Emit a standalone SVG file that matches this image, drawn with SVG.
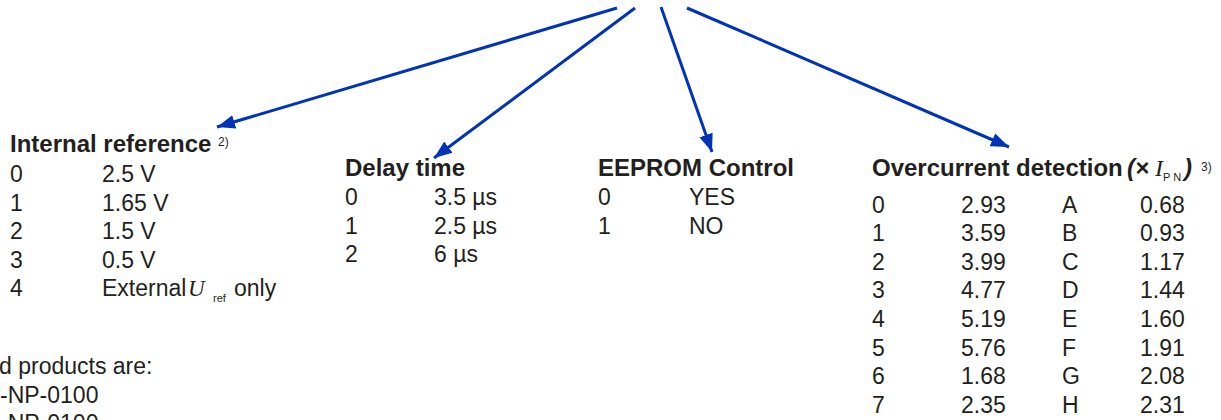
<svg xmlns="http://www.w3.org/2000/svg" width="1221" height="420" viewBox="0 0 1221 420">
<defs>
<marker id="ah" markerUnits="userSpaceOnUse" markerWidth="20" markerHeight="16" refX="18" refY="7" orient="auto" viewBox="0 0 20 14">
<path d="M0,0 L18,7 L0,14 Z" fill="#0033b8"/>
</marker>
</defs>
<style>
text{font-family:"Liberation Sans",Arial,sans-serif;fill:#231f20;font-size:23px}
.t{font-weight:bold;font-size:24px}
.sup{font-size:12px}
.sub{font-size:11px}
.it{font-family:"Liberation Serif","Times New Roman",serif;font-style:italic}
.c line{stroke:#0033b8;stroke-width:3;marker-end:url(#ah)}
</style>
<rect width="1221" height="420" fill="#ffffff"/>
<g class="c" id="connectors">
<line x1="617" y1="8" x2="217" y2="127"/>
<line x1="635" y1="8" x2="434" y2="158"/>
<line x1="661" y1="7" x2="712" y2="152"/>
<line x1="687" y1="8" x2="1009" y2="147"/>
</g>
<g id="internal-reference">
<text class="t" x="10" y="152">Internal reference</text>
<text class="sup" x="218" y="146">2)</text>
<text x="10" y="182">0</text><text x="102" y="182">2.5 V</text>
<text x="10" y="210.5">1</text><text x="102" y="210.5">1.65 V</text>
<text x="10" y="239">2</text><text x="102" y="239">1.5 V</text>
<text x="10" y="267.5">3</text><text x="102" y="267.5">0.5 V</text>
<text x="10" y="296">4</text><text x="102" y="296">External <tspan class="it" x="188">U</tspan><tspan class="sub" x="213" y="302">ref</tspan><tspan x="234" y="296">only</tspan></text>
</g>
<g id="delay-time">
<text class="t" x="345" y="176">Delay time</text>
<text x="345" y="205">0</text><text x="434" y="205">3.5 µs</text>
<text x="345" y="233.5">1</text><text x="434" y="233.5">2.5 µs</text>
<text x="345" y="262">2</text><text x="434" y="262">6 µs</text>
</g>
<g id="eeprom-control">
<text class="t" x="598" y="176">EEPROM Control</text>
<text x="598" y="205">0</text><text x="689" y="205">YES</text>
<text x="598" y="233.5">1</text><text x="689" y="233.5">NO</text>
</g>
<g id="overcurrent-detection">
<text class="t" x="872" y="176">Overcurrent detection <tspan font-style="italic" x="1127">(×</tspan><tspan class="it" font-weight="normal" x="1155">I</tspan><tspan class="sub" font-weight="normal" x="1163" y="181">P N</tspan><tspan font-style="italic" x="1184" y="176">)</tspan></text>
<text class="sup" x="1201" y="171">3)</text>
<text x="872" y="212.5">0</text><text x="961" y="212.5">2.93</text><text x="1062" y="212.5">A</text><text x="1140" y="212.5">0.68</text>
<text x="872" y="241">1</text><text x="961" y="241">3.59</text><text x="1062" y="241">B</text><text x="1140" y="241">0.93</text>
<text x="872" y="269.7">2</text><text x="961" y="269.7">3.99</text><text x="1062" y="269.7">C</text><text x="1140" y="269.7">1.17</text>
<text x="872" y="298.3">3</text><text x="961" y="298.3">4.77</text><text x="1062" y="298.3">D</text><text x="1140" y="298.3">1.44</text>
<text x="872" y="326.9">4</text><text x="961" y="326.9">5.19</text><text x="1062" y="326.9">E</text><text x="1140" y="326.9">1.60</text>
<text x="872" y="355.5">5</text><text x="961" y="355.5">5.76</text><text x="1062" y="355.5">F</text><text x="1140" y="355.5">1.91</text>
<text x="872" y="384.1">6</text><text x="961" y="384.1">1.68</text><text x="1062" y="384.1">G</text><text x="1140" y="384.1">2.08</text>
<text x="872" y="412.7">7</text><text x="961" y="412.7">2.35</text><text x="1062" y="412.7">H</text><text x="1140" y="412.7">2.31</text>
</g>
<g id="footnote">
<text x="-1" y="374">d products are:</text>
<text x="0" y="402.5">-NP-0100</text>
<text x="0" y="431">-NP-0100</text>
</g>
</svg>
